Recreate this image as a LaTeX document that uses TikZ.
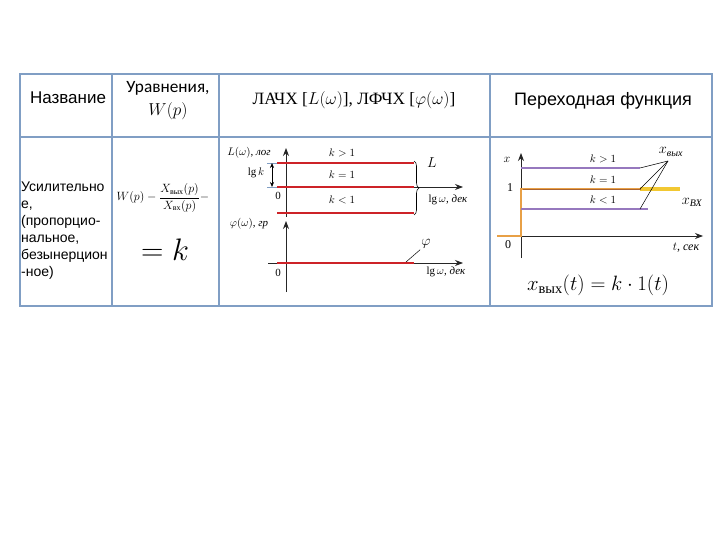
\documentclass[tikz,border=0pt]{standalone}
\usepackage{amsmath}
\usepackage{fontspec}
\setmainfont{Liberation Serif}
\setsansfont{Liberation Sans}
\newfontfamily\calfont{Carlito}
\usetikzlibrary{arrows.meta,decorations.pathreplacing}

\definecolor{tabline}{RGB}{128,158,196}
\definecolor{lred}{RGB}{205,35,40}
\definecolor{lpurple}{RGB}{150,120,190}
\definecolor{lorange}{RGB}{232,160,70}
\definecolor{lyellow}{RGB}{242,200,50}
\definecolor{lbrown}{RGB}{170,100,50}

\tikzset{
  grid/.style={tabline, line width=1.2pt},
  axis/.style={-{Stealth[length=8pt,width=6pt]}, black!85, line width=0.8pt},
  redline/.style={lred, line width=2.6pt},
  lbl/.style={font=\fontsize{10.95}{12}\selectfont, inner sep=1pt},
  leader/.style={black, line width=0.5pt},
}

\begin{document}
\begin{tikzpicture}[x=1pt,y=-1pt]
  \useasboundingbox[fill=white] (0,0) rectangle (720,540);
  % table
  \draw[grid] (20,74) rectangle (712,306);
  \draw[grid] (20,137) -- (712,137);
  \foreach \x in {112,219,490} \draw[grid] (\x,74) -- (\x,306);

  \node[font=\sffamily\fontsize{17}{20}\selectfont] (name) at (68,98) {Название};
  \node[font=\calfont\fontsize{17.28}{23}\selectfont, align=center] (eqhead) at (168,101) {Уравнения,\\$W(p)$};
  \node[font=\fontsize{17.28}{20}\selectfont] (freqhead) at (354,100) {ЛАЧХ [$L(\omega)$], ЛФЧХ [$\varphi(\omega)$]};
  \node[font=\sffamily\fontsize{18}{20}\selectfont] (stephead) at (603,101) {Переходная функция};

  \node[font=\sffamily\fontsize{14}{17}\selectfont, align=left, anchor=west, inner sep=0pt] (kind) at (21,231)
    {Усилительно\\е,\\(пропорцио-\\нальное,\\безынерцион\\-ное)};
  \node[font=\fontsize{12}{14}\selectfont] (wfun) at (163,198) {$W(p) - \dfrac{X_{\text{вых}}(p)}{X_{\text{вх}}(p)} -$};
  \node[font=\fontsize{24.88}{30}\selectfont, scale=1.25] (keq) at (165,250) {$=k$};

  % LACHX
  \draw[axis] (286,217) -- (286,148);
  \draw[axis] (286,187) -- (463,187);
  \draw[redline] (277,163) -- (414,163);
  \draw[redline] (277,187) -- (414,187);
  \draw[redline] (277,213) -- (414,213);
  \draw[tabline, line width=0.6pt] (267,163) -- (277,163) (267,187) -- (277,187);
  \draw[{Stealth[length=5pt,width=4pt]}-{Stealth[length=5pt,width=4pt]}, line width=0.6pt] (272,163) -- (272,187);
  \draw[decorate, decoration={brace, amplitude=5pt}, line width=0.6pt] (414,161) -- (414,215);
  \node[lbl] (lw) at (249,153) {$L(\omega)$, \textit{лог}};
  \node[lbl] (lgk) at (256,173) {$\lg k$};
  \node[lbl] (zeroL) at (278,196) {0};
  \node[lbl] (kgt) at (342,153) {$k>1$};
  \node[lbl] (keqone) at (342,175) {$k=1$};
  \node[lbl] (klt) at (342,200) {$k<1$};
  \node[lbl] (lgwL) at (448,200) {$\lg\omega$, \textit{дек}};
  \node[lbl, font=\fontsize{14.4}{16}\selectfont] (Llbl) at (432,163) {$L$};

  % LFCHX
  \draw[axis] (286,292) -- (286,221);
  \draw[axis] (268,263) -- (463,263);
  \draw[redline] (277,263) -- (414,263);
  \node[lbl] (phw) at (249,224) {$\varphi(\omega)$, \textit{гр}};
  \node[lbl] (zeroP) at (278,273) {0};
  \node[lbl] (lgwP) at (446,272) {$\lg\omega$, \textit{дек}};
  \node[lbl, font=\fontsize{14.4}{16}\selectfont] (phlbl) at (426,244) {$\varphi$};
  \coordinate (phpt) at (406,262);
  \draw[leader] (phlbl.south west) -- (phpt);

  % step response
  \draw[axis] (521,258) -- (521,153);
  \draw[axis] (497,236) -- (703,236);
  \draw[lyellow, line width=3.5pt] (640,189) -- (680,189);
  \draw[lorange, line width=2.8pt] (497,236) -- (521,236) -- (521,189) -- (641,189);
  \draw[lbrown, line width=0.8pt] (523,189) -- (641,189);
  \draw[lpurple, line width=1.3pt] (521,168) -- (640,168);
  \draw[lpurple, line width=1.3pt] (521,209) -- (648,209);
  \node[lbl, font=\fontsize{12}{14}\selectfont] (xax) at (507,160) {$x$};
  \node[lbl, font=\fontsize{12}{14}\selectfont] (one) at (510,188) {1};
  \node[lbl, font=\fontsize{12}{14}\selectfont] (zeroT) at (508,245) {0};
  \node[lbl, font=\fontsize{12}{14}\selectfont] (tsec) at (686,248) {$t$, \textit{сек}};
  \node[lbl] (tkgt) at (603,159) {$k>1$};
  \node[lbl] (tkeq) at (603,180) {$k=1$};
  \node[lbl] (tklt) at (603,200) {$k<1$};
  \node[lbl, font=\fontsize{14.4}{16}\selectfont] (xout) at (671,152) {$x_{\textit{вых}}$};
  \node[lbl, font=\fontsize{14.4}{16}\selectfont] (xin) at (692,202) {$x_{\textit{ВХ}}$};
  \coordinate (ptgt) at (640,168);
  \coordinate (pteq) at (640,189);
  \coordinate (ptlt) at (640,209);
  \foreach \p in {ptgt,pteq,ptlt} \draw[leader] (668,161) -- (\p);
  \node[font=\fontsize{20.74}{24}\selectfont] (stepeq) at (598,285) {$x_{\text{вых}}(t) = k\cdot 1(t)$};
\end{tikzpicture}
\end{document}
